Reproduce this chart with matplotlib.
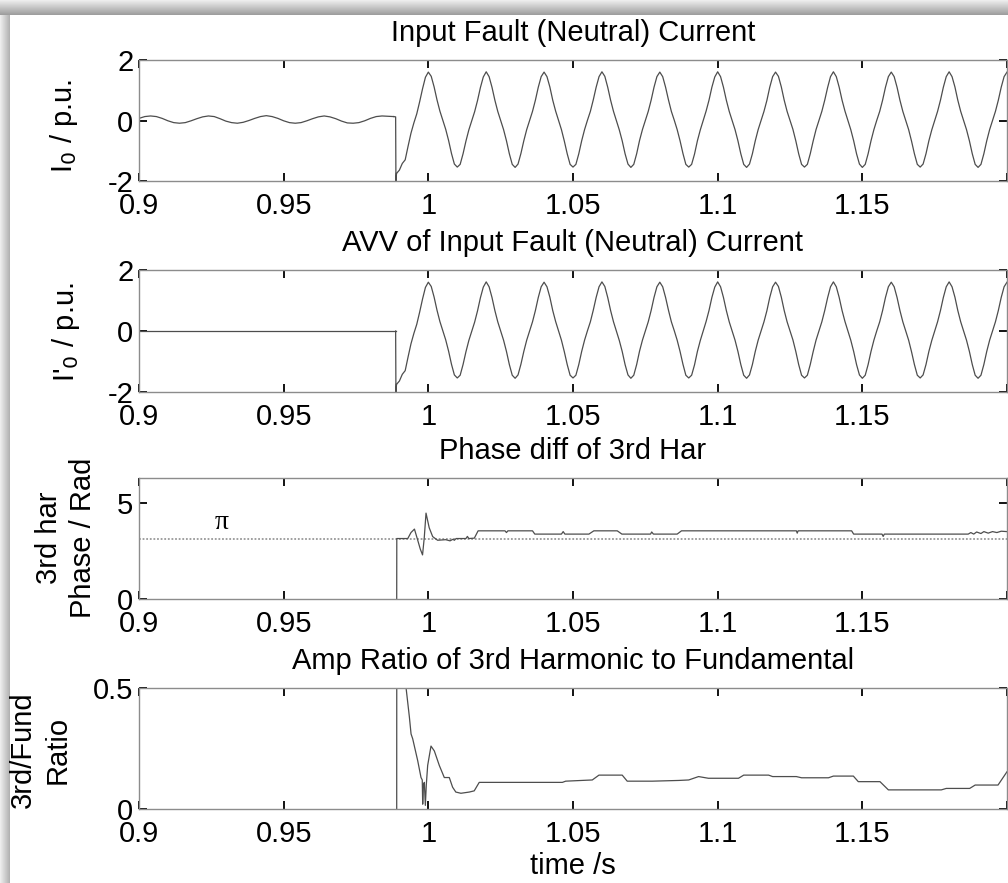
import numpy as np
import matplotlib
matplotlib.use("Agg")
import matplotlib.pyplot as plt

plt.rcParams["font.family"] = ["Liberation Sans", "DejaVu Sans"]

# ---- data -----------------------------------------------------------------
FAULT_T = 0.9887

# panel 1, pre-fault residual current, sampled every 2 ms from 0.900 s
PRE_T0, PRE_DT = 0.900, 0.002
I0_PRE = [
    0.07, 0.13, 0.15, 0.13, 0.07, -0.01, -0.07, -0.09, -0.07, -0.01,
    0.06, 0.12, 0.15, 0.13, 0.06, -0.02, -0.07, -0.09, -0.06, 0.00,
    0.07, 0.13, 0.16, 0.13, 0.07, -0.01, -0.07, -0.09, -0.07, -0.01,
    0.06, 0.12, 0.15, 0.12, 0.06, -0.02, -0.08, -0.09, -0.07, -0.01,
    0.07, 0.13, 0.15, 0.14, 0.13,
]
I0_FAULT_STEP = [0.12, -2.05]          # value just before / at fault instant

# post-fault current (same in panel 1 and 2), sampled every 1 ms from 0.989 s
POST_T0, POST_DT = 0.989, 0.001
I0_POST = [
    -1.75, -1.64, -1.42, -1.30, -0.85, -0.42, -0.08, 0.22, 0.62, 1.05, 1.43, 1.60,
    1.46, 1.11, 0.68, 0.31, 0.01, -0.29, -0.66, -1.09, -1.44, -1.54,
    -1.45, -1.10, -0.68, -0.31, -0.01, 0.29, 0.66, 1.09, 1.44, 1.61,
    1.45, 1.10, 0.67, 0.30, 0.00, -0.30, -0.67, -1.10, -1.45, -1.55,
    -1.44, -1.09, -0.67, -0.30, 0.00, 0.30, 0.67, 1.10, 1.45, 1.60,
    1.45, 1.11, 0.67, 0.31, 0.00, -0.30, -0.68, -1.10, -1.45, -1.54,
    -1.45, -1.10, -0.67, -0.30, 0.01, 0.30, 0.68, 1.10, 1.45, 1.61,
    1.46, 1.10, 0.67, 0.30, 0.00, -0.31, -0.67, -1.10, -1.44, -1.55,
    -1.45, -1.10, -0.66, -0.30, 0.00, 0.30, 0.67, 1.10, 1.45, 1.60,
    1.45, 1.10, 0.68, 0.30, 0.01, -0.30, -0.67, -1.09, -1.45, -1.54,
    -1.45, -1.11, -0.67, -0.31, 0.00, 0.31, 0.67, 1.10, 1.44, 1.61,
    1.45, 1.10, 0.67, 0.30, 0.00, -0.30, -0.67, -1.10, -1.45, -1.55,
    -1.44, -1.10, -0.67, -0.30, 0.00, 0.30, 0.66, 1.10, 1.45, 1.60,
    1.46, 1.11, 0.67, 0.30, 0.00, -0.29, -0.67, -1.10, -1.45, -1.54,
    -1.45, -1.10, -0.68, -0.30, 0.00, 0.30, 0.67, 1.09, 1.45, 1.61,
    1.45, 1.10, 0.67, 0.31, 0.00, -0.30, -0.67, -1.10, -1.44, -1.55,
    -1.45, -1.10, -0.67, -0.30, 0.01, 0.30, 0.67, 1.10, 1.45, 1.60,
    1.45, 1.10, 0.67, 0.30, 0.00, -0.30, -0.68, -1.10, -1.45, -1.54,
    -1.44, -1.10, -0.67, -0.31, 0.00, 0.30, 0.67, 1.10, 1.45, 1.61,
    1.45, 1.11, 0.67, 0.30, 0.00, -0.30, -0.67, -1.10, -1.45, -1.55,
    -1.45, -1.10, -0.67, -0.30, 0.00, 0.30, 0.67, 1.10, 1.45, 1.60,
]

# panel 2, pre-fault AVV output is zero
AVV_PRE_T = [0.900, FAULT_T]
AVV_PRE = [0.0, 0.0]

# panel 3, phase difference of 3rd harmonic (rad), from the fault onwards
PH_T = [0.98907, 0.98910, 0.9929, 0.9940, 0.9952, 0.9963, 0.9972, 0.9980,
        0.9986, 0.9992, 1.0003, 1.0015, 1.0032, 1.0060, 1.0075, 1.0085, 1.0090,
        1.0096, 1.0130, 1.0135, 1.0140, 1.0159, 1.0172, 1.0265, 1.0270, 1.0275,
        1.0360, 1.0368, 1.0460, 1.0466, 1.0472, 1.0555, 1.0572, 1.0653, 1.0669,
        1.0768, 1.0772, 1.0778, 1.0860, 1.0875, 1.1272, 1.1275, 1.1278, 1.1463,
        1.1470, 1.1568, 1.1572, 1.1576, 1.1866, 1.1875, 1.1885, 1.1895, 1.1910,
        1.1920, 1.1935, 1.1950, 1.1965, 1.1980, 1.2000]
PH = [0.0, 3.14, 3.14, 3.45, 3.63, 3.07, 2.60, 2.29,
      3.20, 4.46, 3.70, 3.24, 3.05, 3.08, 3.02, 3.10, 3.05,
      3.14, 3.14, 3.25, 3.14, 3.16, 3.54, 3.54, 3.45, 3.54,
      3.54, 3.37, 3.37, 3.50, 3.37, 3.37, 3.54, 3.54, 3.37,
      3.37, 3.48, 3.37, 3.37, 3.54, 3.54, 3.42, 3.54, 3.54,
      3.37, 3.37, 3.25, 3.37, 3.37, 3.45, 3.37, 3.48, 3.40,
      3.50, 3.42, 3.50, 3.45, 3.52, 3.50]
PI_LABEL_T, PI_LABEL_Y = 0.9285, 3.96

# panel 4, amplitude ratio of 3rd harmonic to fundamental, from the fault onwards
AR_T = [0.98907, 0.98910, 0.9910, 0.99231, 0.99345, 0.99403, 0.99460,
        0.99517, 0.99632, 0.99747, 0.99790, 0.99805, 0.99830, 0.99862, 0.99897,
        0.99930, 0.99977, 1.00092, 1.00207, 1.00379, 1.00552, 1.00724, 1.00839,
        1.00950, 1.01126, 1.01414, 1.01586, 1.01759, 1.04632, 1.04747, 1.05667,
        1.05897, 1.06701, 1.06874, 1.07736, 1.08655, 1.0900, 1.0934, 1.0968,
        1.1072, 1.1090, 1.1176, 1.1190, 1.1272, 1.1290, 1.1383, 1.1400, 1.1469,
        1.1486, 1.1561, 1.1590, 1.1773, 1.1790, 1.1871, 1.1890, 1.1969, 1.2000]
AR = [0.0, 0.90, 0.85, 0.50, 0.38, 0.31, 0.29,
      0.26, 0.20, 0.13, 0.12, 0.02, 0.10, 0.11, 0.015,
      0.10, 0.18, 0.26, 0.24, 0.18, 0.13, 0.13, 0.09,
      0.07, 0.065, 0.07, 0.075, 0.110, 0.110, 0.115, 0.120,
      0.140, 0.140, 0.115, 0.115, 0.118, 0.120, 0.134, 0.127,
      0.127, 0.140, 0.140, 0.134, 0.134, 0.129, 0.129, 0.136, 0.136,
      0.113, 0.113, 0.079, 0.079, 0.085, 0.085, 0.099, 0.099, 0.154]

XTICKS = [0.9, 0.95, 1.0, 1.05, 1.1, 1.15, 1.2]
XTICKLABELS = ["0.9", "0.95", "1", "1.05", "1.1", "1.15", ""]

# ---- figure -----------------------------------------------------------------
W, H = 1008, 883
fig = plt.figure(figsize=(W / 100, H / 100), dpi=100)

# grey page shadow along the top and left edge
bg = np.ones((H, W, 3))
top = np.linspace(0.93, 0.62, 15)
bg[:15, :, :] = top[:, None, None]
left = np.linspace(0.93, 0.70, 10)
bg[15:, :10, :] = left[None, :, None]
fig.figimage(bg, xo=0, yo=0, origin="upper", zorder=-10)


def px_axes(top_px, bottom_px, left_px=139, right_px=1007):
    return fig.add_axes([left_px / W, 1 - bottom_px / H,
                         (right_px - left_px) / W, (bottom_px - top_px) / H])


LINE = dict(color="0.3", lw=0.9)
FS = 21

ax1 = px_axes(60, 181)
ax2 = px_axes(270, 392)
ax3 = px_axes(478, 599)
ax4 = px_axes(688, 809)

pre_t = PRE_T0 + PRE_DT * np.arange(len(I0_PRE))
post_t = POST_T0 + POST_DT * np.arange(len(I0_POST))

ax1.plot(pre_t, I0_PRE, **LINE)
ax1.plot([pre_t[-1], FAULT_T, FAULT_T + 0.0001, post_t[0]],
         [I0_PRE[-1], I0_FAULT_STEP[0], I0_FAULT_STEP[1], I0_POST[0]], **LINE)
ax1.plot(post_t, I0_POST, **LINE)

ax2.plot(AVV_PRE_T, AVV_PRE, **LINE)
ax2.plot([FAULT_T, FAULT_T + 0.0001, post_t[0]],
         [AVV_PRE[-1], I0_FAULT_STEP[1], I0_POST[0]], **LINE)
ax2.plot(post_t, I0_POST, **LINE)

ax3.axhline(np.pi, color="0.6", lw=1.3, ls=(0, (1, 1)))
ax3.plot(PH_T, PH, **LINE)
ax3.text(PI_LABEL_T, PI_LABEL_Y, "\u03c0", family=["Liberation Serif", "DejaVu Serif"],
         fontsize=FS - 1, ha="center", va="center")

ax4.plot(AR_T, AR, **LINE)

specs = [
    (ax1, (-2, 2), [-2, 0, 2], ["-2", "0", "2"], "Input Fault (Neutral) Current"),
    (ax2, (-2, 2), [-2, 0, 2], ["-2", "0", "2"], "AVV of Input Fault (Neutral) Current"),
    (ax3, (0, 2 * np.pi), [0, 5], ["0", "5"], "Phase diff of 3rd Har"),
    (ax4, (0, 0.5), [0, 0.5], ["0", "0.5"], "Amp Ratio of 3rd Harmonic to Fundamental"),
]
for ax, ylim, yt, ytl, title in specs:
    ax.set_xlim(0.9, 1.2)
    ax.set_ylim(*ylim)
    ax.set_xticks(XTICKS)
    ax.set_xticklabels(XTICKLABELS)
    ax.set_yticks(yt)
    ax.set_yticklabels(ytl)
    ax.tick_params(direction="in", length=6, width=1.3, color="k",
                   top=True, right=True, labelsize=FS)
    ax.tick_params(axis="x", pad=8)
    ax.tick_params(axis="y", pad=4)
    for sp in ax.spines.values():
        sp.set_color("0.55")
        sp.set_linewidth(1.0)
    ax.set_title(title, fontsize=FS, pad=14)

ax4.set_xlabel("time /s", fontsize=FS, labelpad=3)

# y labels placed by hand (pixel centres)
def ylab(x_px, y_px, s):
    fig.text(x_px / W, 1 - y_px / H, s, rotation=90, fontsize=FS,
             ha="center", va="center", multialignment="center", linespacing=1.3)

ylab(64, 126, r"I$_0$ / p.u.")
ylab(66, 332, r"I'$_0$ / p.u.")
ylab(66, 538, "3rd har\nPhase / Rad")
ylab(40, 750, "3rd/Fund\nRatio")

fig.savefig("out.png", dpi=100)
